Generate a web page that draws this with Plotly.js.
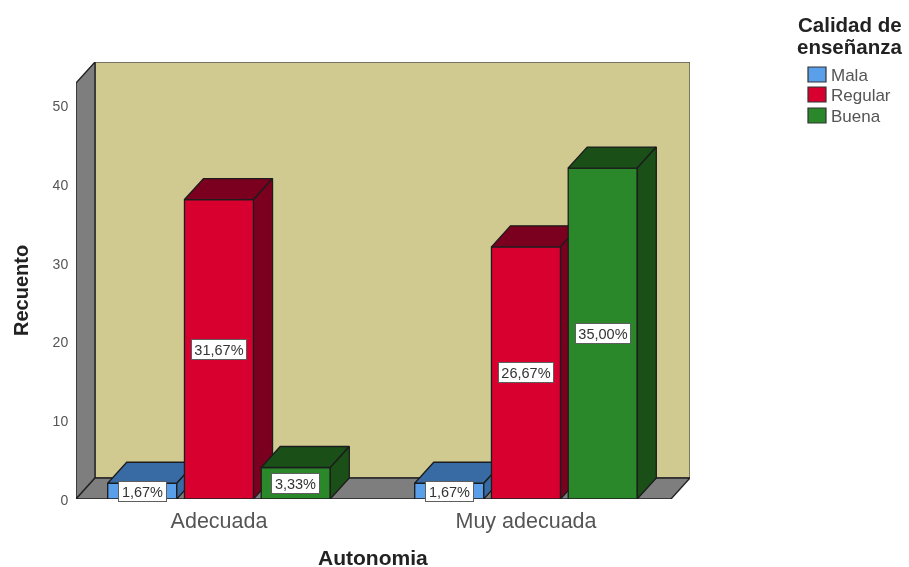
<!DOCTYPE html>
<html>
<head>
<meta charset="utf-8">
<script src="https://cdn.plot.ly/plotly-3.0.1.min.js"></script>
<style>html,body{margin:0;padding:0;background:#fff}#c{width:909px;height:567px;filter:blur(0.45px)}</style>
</head>
<body>
<div id="c"></div>
<script>
// ---- data ----
const categories = ["Adecuada", "Muy adecuada"];
const seriesNames = ["Mala", "Regular", "Buena"];
const malaValues = [2, 2];
const regularValues = [38, 32];
const buenaValues = [4, 42];
const malaLabels = ["1,67%", "1,67%"];
const regularLabels = ["31,67%", "26,67%"];
const buenaLabels = ["3,33%", "35,00%"];
const yTicks = [0, 10, 20, 30, 40, 50];
const legendTitleLines = ["Calidad de", "enseñanza"];
const xTitle = "Autonomia";
const yTitle = "Recuento";

// ---- styling ----
const FONT = "Liberation Sans, Arial, sans-serif";
const frontColors = ["#5a9fe9", "#d7002f", "#2a882b"];
const darkColors = ["#386aa3", "#7b0020", "#1a4f17"];
const EDGE = "#1c1c1c";
const W = 909, H = 567, L = 76, R = 690, T = 62, B = 499;
const PXU = 7.88;
const xRange = [-143 / 307, 471 / 307];
const yRange = [0, (B - T) / PXU];
const dx = 19 / 307, dy = 21 / PXU;      // depth of the 3D extrusion, axis units
const slot = 0.25, barW = 0.225;
const px = v => (v - L) / (R - L);
const py = v => (B - v) / (B - T);

const allValues = [malaValues, regularValues, buenaValues];
const allLabels = [malaLabels, regularLabels, buenaLabels];
const axisSuffix = ["", "2", "3"];

const traces = [];
const annotations = [];

allValues.forEach((vals, s) => {
  const xa = "x" + axisSuffix[s], ya = "y" + axisSuffix[s];
  const centers = vals.map((_, i) => i + (s - 1) * slot);
  traces.push({
    type: "bar", name: seriesNames[s], x: centers, y: vals, width: barW,
    xaxis: xa, yaxis: ya, showlegend: false, hoverinfo: "skip",
    marker: {color: frontColors[s], line: {color: EDGE, width: 1.3}}
  });
  vals.forEach((v, i) => {
    const x0 = centers[i] - barW / 2, x1 = centers[i] + barW / 2;
    const faces = [
      {x: [x0, x1, x1 + dx, x0 + dx, x0], y: [v, v, v + dy, v + dy, v]},
      {x: [x1, x1 + dx, x1 + dx, x1, x1], y: [0, dy, v + dy, v, 0]}
    ];
    faces.forEach(f => traces.push({
      type: "scatter", mode: "lines", x: f.x, y: f.y, xaxis: xa, yaxis: ya,
      fill: "toself", fillcolor: darkColors[s], showlegend: false, hoverinfo: "skip",
      line: {color: EDGE, width: 1.3}
    }));
    const text = allLabels[s][i];
    annotations.push({
      xref: "x", yref: "y", x: centers[i], y: v / 2, text: text, showarrow: false,
      font: {family: FONT, size: 14.5, color: "#333"}, bgcolor: "#fff",
      bordercolor: "#5e5e5e", borderwidth: 1, borderpad: 1,
      width: text.length > 5 ? 52 : 45, height: 17, xanchor: "center", yanchor: "middle"
    });
  });
});

const hidden = (extra) => Object.assign({visible: false, fixedrange: true}, extra);

const shapes = [
  {type: "path", layer: "below", xref: "x", yref: "y",
   path: `M${xRange[0] + dx},${dy}L${xRange[1]},${dy}L${xRange[1]},${yRange[1]}L${xRange[0] + dx},${yRange[1]}Z`,
   fillcolor: "#d0ca90", line: {color: "#555", width: 1.4}},
  {type: "path", layer: "below", xref: "x", yref: "y",
   path: `M${xRange[0]},0L${xRange[0] + dx},${dy}L${xRange[0] + dx},${yRange[1]}L${xRange[0]},${yRange[1] - dy}Z`,
   fillcolor: "#7e7e7e", line: {color: "#222", width: 1.4}},
  {type: "path", layer: "below", xref: "x", yref: "y",
   path: `M${xRange[0]},0L${xRange[0] + dx},${dy}L${xRange[1]},${dy}L${xRange[1] - dx},0Z`,
   fillcolor: "#7e7e7e", line: {color: "#222", width: 1.4}}
];

// legend
const swatchTops = [67, 87, 108];
seriesNames.forEach((n, s) => {
  shapes.push({type: "rect", xref: "paper", yref: "paper",
    x0: px(808), x1: px(826), y0: py(swatchTops[s]), y1: py(swatchTops[s] + 15),
    fillcolor: frontColors[s], line: {color: "#333", width: 1.2}});
  annotations.push({xref: "paper", yref: "paper", x: px(829), y: py(swatchTops[s] + 8.5), text: n,
    showarrow: false, xanchor: "left", yanchor: "middle",
    font: {family: FONT, size: 17, color: "#555"}});
});
const legendTitleY = [24, 46];
legendTitleLines.forEach((t, i) => annotations.push({xref: "paper", yref: "paper", x: px(850), y: py(legendTitleY[i]),
  text: "<b>" + t + "</b>", showarrow: false, xanchor: "center", yanchor: "middle", height: 20,
  font: {family: FONT, size: 20.5, color: "#222"}}));
annotations.push({xref: "paper", yref: "paper", x: px(373), y: py(557), text: "<b>" + xTitle + "</b>", height: 20,
  showarrow: false, xanchor: "center", yanchor: "middle", font: {family: FONT, size: 21, color: "#222"}});
annotations.push({xref: "paper", yref: "paper", x: px(21), y: py(291), text: "<b>" + yTitle + "</b>",
  showarrow: false, textangle: -90, xanchor: "center", yanchor: "middle", font: {family: FONT, size: 20, color: "#222"}});

const layout = {
  width: W, height: H, autosize: false, showlegend: false,
  paper_bgcolor: "#fff", plot_bgcolor: "rgba(0,0,0,0)",
  margin: {l: L, r: W - R, t: T, b: H - B, pad: 0},
  xaxis: {range: xRange, tickvals: categories.map((_, i) => i), ticktext: categories,
    showgrid: false, zeroline: false, showline: false, ticks: "outside", ticklen: 2,
    tickcolor: "rgba(0,0,0,0)", tickfont: {family: FONT, size: 21.5, color: "#555"}, fixedrange: true},
  yaxis: {range: yRange, tickvals: yTicks, showgrid: false, zeroline: false, showline: false,
    ticks: "outside", ticklen: 4, tickcolor: "rgba(0,0,0,0)", ticklabelshift: 1,
    tickfont: {family: FONT, size: 14, color: "#555"}, fixedrange: true},
  xaxis2: hidden({overlaying: "x", range: xRange, anchor: "y2"}),
  yaxis2: hidden({overlaying: "y", range: yRange, anchor: "x2"}),
  xaxis3: hidden({overlaying: "x", range: xRange, anchor: "y3"}),
  yaxis3: hidden({overlaying: "y", range: yRange, anchor: "x3"}),
  shapes: shapes,
  annotations: annotations
};

Plotly.newPlot("c", traces, layout, {displayModeBar: false, staticPlot: true});
</script>
</body>
</html>
